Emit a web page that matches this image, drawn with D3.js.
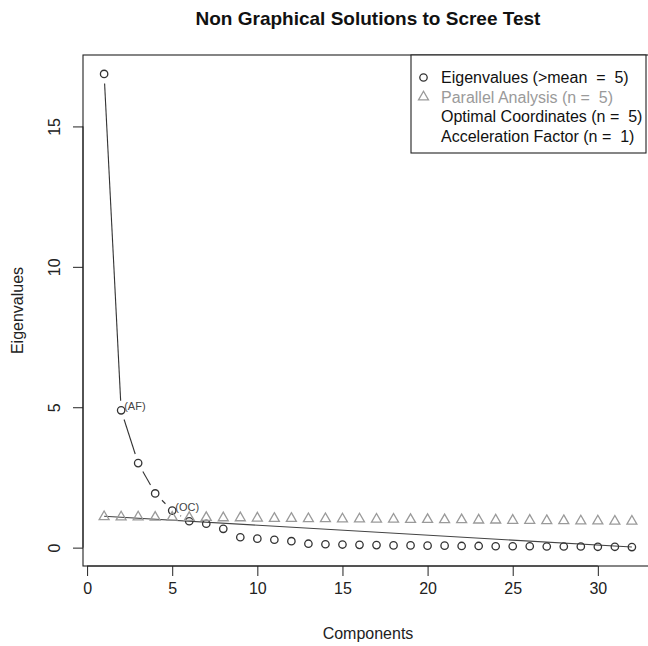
<!DOCTYPE html>
<html><head><meta charset="utf-8">
<script src="https://cdn.jsdelivr.net/npm/d3@7"></script>
<style>
body{margin:0;background:#fff}
svg{display:block}
text{font-family:"Liberation Sans",Arial,Helvetica,sans-serif}
</style>
</head><body>
<svg id="chart" width="648" height="646"></svg>
<script>
// ---- data ----
const components = [1,2,3,4,5,6,7,8,9,10,11,12,13,14,15,16,17,18,19,20,21,22,23,24,25,26,27,28,29,30,31,32];
const eigenvalues = [16.87,4.89,3.01,1.93,1.32,0.94,0.85,0.67,0.37,0.32,0.28,0.23,0.14,0.12,0.11,0.10,
                     0.09,0.08,0.08,0.07,0.07,0.06,0.06,0.05,0.05,0.05,0.04,0.04,0.04,0.03,0.03,0.02];
const parallelAnalysis = [1.10,1.09,1.09,1.08,1.08,1.07,1.07,1.06,1.06,1.05,1.04,1.04,1.03,1.03,1.02,1.02,
                          1.01,1.01,1.00,1.00,0.99,0.99,0.98,0.98,0.97,0.97,0.96,0.96,0.95,0.95,0.94,0.94];
const xTicks = [0,5,10,15,20,25,30];
const yTicks = [0,5,10,15];
const legendLabels = ["Eigenvalues (>mean  =  5)","Parallel Analysis (n =  5)","Optimal Coordinates (n =  5)","Acceleration Factor (n =  1)"];
const nOC = 5, nAF = 1;
const titleText = "Non Graphical Solutions to Scree Test";
const xLabel = "Components", yLabel = "Eigenvalues";

// ---- layout ----
const svg = d3.select("#chart");
const plot = {left:83, right:653, top:55, bottom:566};
const n = components.length;
const xr = (components[n-1]-components[0])*0.04;
const x = d3.scaleLinear().domain([components[0]-xr, components[n-1]+xr]).range([plot.left, plot.right]);
const eMin = d3.min(eigenvalues), eMax = d3.max(eigenvalues), yr = (eMax-eMin)*0.04;
const y = d3.scaleLinear().domain([eMin-yr, eMax+yr]).range([plot.bottom, plot.top]);

const R = 3.7;         // point radius
const GAP = 9.6;       // type="b" gap
const dark = "#333", grey = "#9a9a9a";

function typeB(g, xs, ys, color) {
  for (let i = 1; i < xs.length; i++) {
    const x0 = x(xs[i-1]), y0 = y(ys[i-1]), x1 = x(xs[i]), y1 = y(ys[i]);
    const d = Math.hypot(x1-x0, y1-y0);
    const f = GAP / d;
    if (f < 0.5) {
      g.append("line")
        .attr("x1", x0 + f*(x1-x0)).attr("y1", y0 + f*(y1-y0))
        .attr("x2", x1 - f*(x1-x0)).attr("y2", y1 - f*(y1-y0))
        .attr("stroke", color).attr("stroke-width", 1.1);
    }
  }
}

// box
svg.append("rect").attr("x", plot.left).attr("y", plot.top)
  .attr("width", plot.right-plot.left).attr("height", plot.bottom-plot.top)
  .attr("fill","none").attr("stroke","#222").attr("stroke-width",1.1);

// x axis
const xAxis = d3.axisBottom(x).tickValues(xTicks).tickSize(10).tickPadding(7).tickSizeOuter(0);
const gx = svg.append("g").attr("transform", `translate(0,${plot.bottom})`).call(xAxis);
gx.select(".domain").attr("d", `M${x(xTicks[0])},0H${x(xTicks[xTicks.length-1])}`).attr("stroke","#222");
gx.selectAll(".tick line").attr("stroke","#222");
gx.selectAll(".tick text").attr("font-size",16).attr("fill","#222")
  .attr("font-family",'"Liberation Sans",Arial,sans-serif');

// y axis
const yAxis = d3.axisLeft(y).tickValues(yTicks).tickSize(10).tickSizeOuter(0);
const gy = svg.append("g").attr("transform", `translate(${plot.left},0)`).call(yAxis);
gy.select(".domain").attr("d", `M0,${y(yTicks[0])}V${y(yTicks[yTicks.length-1])}`).attr("stroke","#222");
gy.selectAll(".tick line").attr("stroke","#222");
gy.selectAll(".tick text").attr("font-size",16).attr("fill","#222")
  .attr("font-family",'"Liberation Sans",Arial,sans-serif')
  .attr("x", null).attr("dy", null)
  .attr("text-anchor","middle")
  .attr("transform","translate(-29,0) rotate(-90)")
  .attr("dy","0.35em");

// titles
svg.append("text").attr("x", (plot.left+plot.right)/2).attr("y", 25)
  .attr("text-anchor","middle").attr("font-size",19).attr("font-weight","bold").attr("fill","#111").text(titleText);
svg.append("text").attr("x", (plot.left+plot.right)/2).attr("y", 639)
  .attr("text-anchor","middle").attr("font-size",16).attr("fill","#222").text(xLabel);
svg.append("text").attr("transform", `translate(23,${(plot.top+plot.bottom)/2}) rotate(-90)`)
  .attr("text-anchor","middle").attr("font-size",16).attr("fill","#222").text(yLabel);

// regression segment (optimal coordinates)
const k1 = nOC + 1, k2 = components[n-1];
const e1 = eigenvalues[k1-1], e2 = eigenvalues[n-1];
const slope = (e2-e1)/(k2-k1), icpt = e1 - slope*k1;
svg.append("line")
  .attr("x1", x(1)).attr("y1", y(icpt+slope*1))
  .attr("x2", x(k2)).attr("y2", y(icpt+slope*k2))
  .attr("stroke","#444").attr("stroke-width",1.1);

// eigenvalues
const ge = svg.append("g");
typeB(ge, components, eigenvalues, dark);
ge.selectAll("circle").data(eigenvalues).join("circle")
  .attr("cx",(d,i)=>x(components[i])).attr("cy",d=>y(d)).attr("r",R)
  .attr("fill","none").attr("stroke",dark).attr("stroke-width",1.3);

// parallel analysis
const tri = (r) => {
  const a = 1.5551*r, yc = 0.7776*r, xc = 1.3468*r;
  return `M0,${-a}L${xc},${yc}L${-xc},${yc}Z`;
};
const gp = svg.append("g");
typeB(gp, components, parallelAnalysis, grey);
gp.selectAll("path").data(parallelAnalysis).join("path")
  .attr("transform",(d,i)=>`translate(${x(components[i])},${y(d)})`)
  .attr("d", tri(R)).attr("fill","none").attr("stroke",grey).attr("stroke-width",1.3);

// labels
svg.append("text").attr("x", x(nAF+1)).attr("y", y(eigenvalues[nAF]))
  .attr("font-size",11).attr("fill","#444").style("white-space","pre").text(" (AF)");
svg.append("text").attr("x", x(nOC)).attr("y", y(eigenvalues[nOC-1]))
  .attr("font-size",11).attr("fill","#444").style("white-space","pre").text(" (OC)");

// legend
const lg = svg.append("g");
lg.append("rect").attr("x",411).attr("y",plot.top).attr("width",235).attr("height",98)
  .attr("fill","#fff").attr("stroke","#222").attr("stroke-width",1.1);
const rowY = i => 77.5 + i*19.5;
const textCols = ["#111", grey, "#111", "#111"];
legendLabels.forEach((t,i)=>{
  lg.append("text").attr("x",441).attr("y",rowY(i)).attr("dy","0.35em")
    .attr("font-size",16).attr("fill",textCols[i]).style("white-space","pre").text(t);
});
lg.append("circle").attr("cx",423.5).attr("cy",rowY(0)).attr("r",R)
  .attr("fill","none").attr("stroke",dark).attr("stroke-width",1.3);
lg.append("path").attr("transform",`translate(423.5,${rowY(1)})`).attr("d",tri(R))
  .attr("fill","none").attr("stroke",grey).attr("stroke-width",1.3);
</script>
</body></html>
